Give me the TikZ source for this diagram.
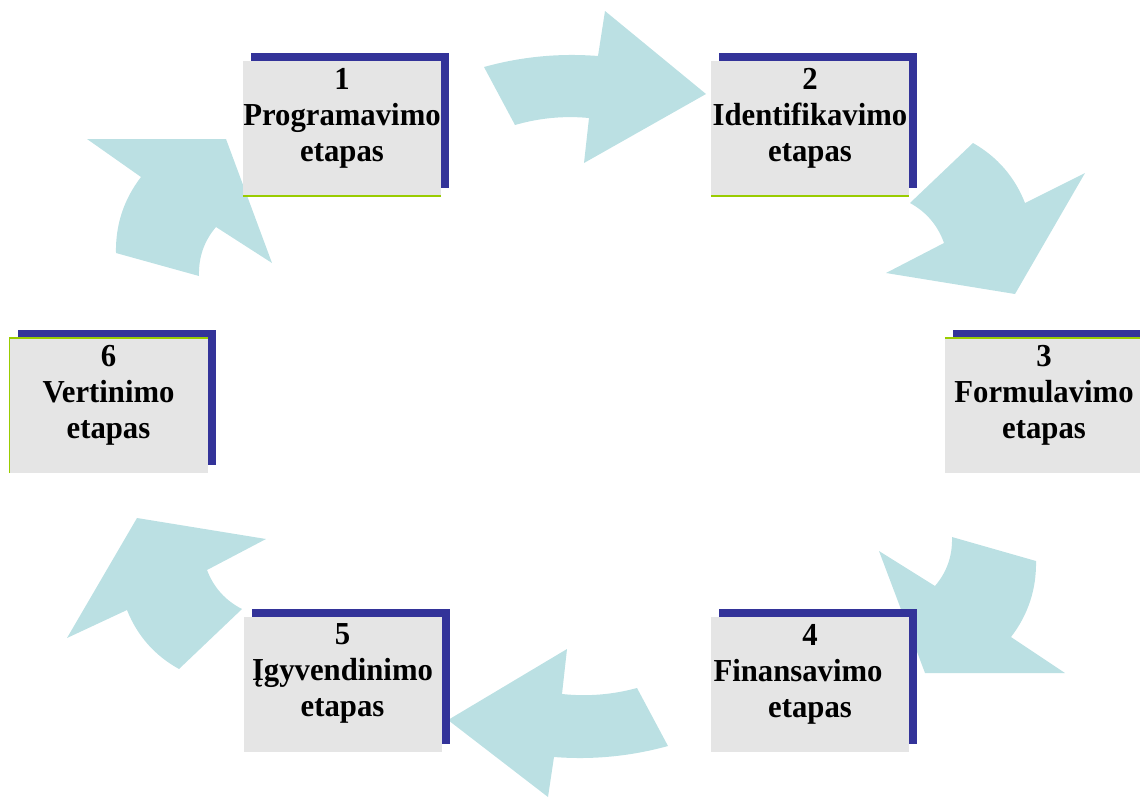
\documentclass[tikz,border=0pt]{standalone}
\usepackage{fontspec}
\setmainfont{Liberation Serif}[FakeStretch=0.96]
\usetikzlibrary{shadows}
\definecolor{arrowblue}{HTML}{BBE0E3}
\definecolor{boxgray}{HTML}{E5E5E5}
\definecolor{shadowblue}{HTML}{333399}
\definecolor{limegreen}{HTML}{99CC00}
\newcommand{\liftbox}{\rule[-27pt]{0pt}{27pt}}
\begin{document}
\begin{tikzpicture}[x=1pt,y=-1pt,
  cyclearrow/.style={fill=arrowblue, draw=none},
  stage/.style={fill=boxgray, minimum width=198pt, minimum height=135pt, inner sep=0pt,
    align=center, font=\fontsize{32}{36}\selectfont\bfseries,
    drop shadow={shadow xshift=8pt, shadow yshift=8pt, fill=shadowblue, opacity=1}},
  edgeline/.style={draw=limegreen, line width=1.5pt}]
\useasboundingbox (0,0) rectangle (1140,798);
\clip (0,0) rectangle (1140,798);

% arrows
\fill[cyclearrow] (484,67) .. controls (521.4,56.6) and (559.4,53) .. (598,56) -- (605,11) -- (706,94) -- (584,163) -- (589,118) .. controls (563.9,115.6) and (539.2,118) .. (515,125) -- cycle;
\fill[cyclearrow] (973,143) .. controls (997.4,156.9) and (1014.7,176.9) .. (1025,203) -- (1085,173) -- (1015,294) -- (886,273) -- (944,243) .. controls (937.8,225.4) and (926.4,212) .. (910,203) -- cycle;
\fill[cyclearrow] (952,537) -- (1036,561) .. controls (1036.5,589.2) and (1028.2,614.6) .. (1011,637) -- (1065,673) -- (925,673) -- (879,551) -- (935,586) .. controls (947,571.9) and (952.6,555.5) .. (952,537) -- cycle;
\fill[cyclearrow] (637,688) -- (668,746) .. controls (630.6,756.3) and (592.6,760) .. (554,757) -- (548,797) -- (448,720) -- (567,649) -- (562,694) .. controls (587.4,696.7) and (612.4,694.7) .. (637,688) -- cycle;
\fill[cyclearrow] (179,669) -- (242,609) .. controls (225.3,600.5) and (213.7,587.5) .. (207,570) -- (266,539) -- (137,518) -- (67,638) -- (127,610) .. controls (137.3,635.9) and (154.7,655.5) .. (179,669) -- cycle;
\fill[cyclearrow] (116,253) -- (199,276) .. controls (198.4,257.5) and (204,241.1) .. (216,227) -- (272,263) -- (226,139) -- (87,139) -- (141,177) .. controls (123.8,199.4) and (115.4,224.8) .. (116,253) -- cycle;

% stages
\node[stage] (s1) at (342,128.5) {1\\Programavimo\\etapas\liftbox};
\node[stage] (s2) at (810,128.5) {2\\Identifikavimo\\etapas\liftbox};
\node[stage] (s3) at (1044,405.5) {3\\Formulavimo\\etapas\liftbox};
\node[stage] (s4) at (810,684) {4\\\mbox{Finansavimo\hspace{24pt}}\\etapas\liftbox};
\node[stage] (s5) at (342.5,684) {5\\Įgyvendinimo\\etapas\liftbox};
\node[stage] (s6) at (108.5,405.5) {6\\Vertinimo\\etapas\liftbox};

% green edges
\draw[edgeline] (s1.south west) -- (s1.south east);
\draw[edgeline] (s2.south west) -- (s2.south east);
\draw[edgeline] (s3.north west) -- (s3.north east);
\draw[edgeline] (s6.south west) -- (s6.north west) -- (s6.north east);
\end{tikzpicture}
\end{document}
